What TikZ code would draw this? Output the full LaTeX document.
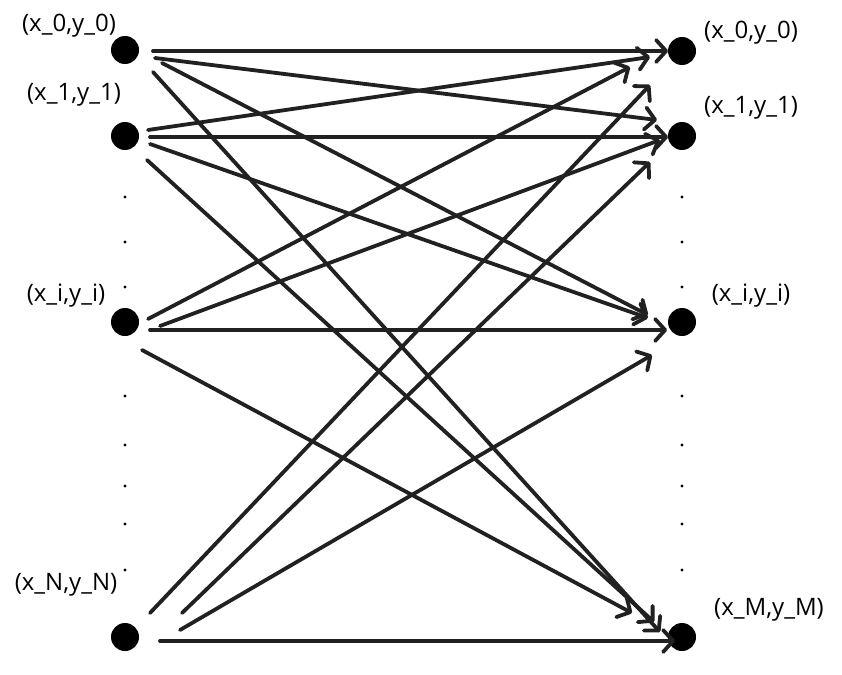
\documentclass[tikz,border=0pt]{standalone}
\usepackage{fontspec}
\setmainfont{Open Sans}
\usetikzlibrary{arrows.meta}
\begin{document}
\begin{tikzpicture}[x=1pt,y=-1pt,
  vtx/.style={circle,fill=black,minimum size=28pt,inner sep=0pt},
  dotmark/.style={circle,fill=black,minimum size=3.2pt,inner sep=0pt},
  lbl/.style={font=\fontsize{24}{27}\selectfont,inner sep=0pt},
  arr/.style={draw=black!87,line width=3.8pt,line cap=round,
    -{Straight Barb[length=10pt,width=22pt,line cap=round,line join=round]}}]
\useasboundingbox (0,0) rectangle (842,674);
% vertices
\node[vtx] (L0) at (125,50) {};
\node[vtx] (L1) at (125,136) {};
\node[vtx] (Li) at (125,322) {};
\node[vtx] (LN) at (125,637) {};
\node[vtx] (R0) at (682,51) {};
\node[vtx] (R1) at (682,136) {};
\node[vtx] (Ri) at (682,322) {};
\node[vtx] (RM) at (682,637) {};
% labels
\node[lbl] (tL0) at (69,26) {(x\_0,y\_0)};
\node[lbl] (tL1) at (74,95) {(x\_1,y\_1)};
\node[lbl] (tLi) at (66,296) {(x\_i,y\_i)};
\node[lbl] (tLN) at (66,585) {(x\_N,y\_N)};
\node[lbl] (tR0) at (751,33) {(x\_0,y\_0)};
\node[lbl] (tR1) at (751,108) {(x\_1,y\_1)};
\node[lbl] (tRi) at (751,296) {(x\_i,y\_i)};
\node[lbl] (tRM) at (769,610) {(x\_M,y\_M)};
% ellipsis dots
\foreach \yy [count=\k] in {197,242,287,396,445,486,524,570} {
  \node[dotmark] (dl\k) at (125,\yy) {};
  \node[dotmark] (dr\k) at (682,\yy) {};
}
% connectors from (x_0,y_0)
\draw[arr] ([shift={(28,1)}]L0.center) -- ([shift={(-14,0)}]R0.center);
\draw[arr] ([shift={(30,8)}]L0.center) -- ([shift={(-25,-16)}]R1.center);
\draw[arr] ([shift={(37,13)}]L0.center) -- ([shift={(-34,-7)}]Ri.center);
\draw[arr] ([shift={(28,22)}]L0.center) -- ([shift={(-22,-5)}]RM.center);
% from (x_1,y_1)
\draw[arr] ([shift={(23,-6)}]L1.center) -- ([shift={(-32,6)}]R0.center);
\draw[arr] ([shift={(25,1)}]L1.center) -- ([shift={(-14,1)}]R1.center);
\draw[arr] ([shift={(25,8)}]L1.center) -- ([shift={(-34,-4)}]Ri.center);
\draw[arr] ([shift={(22,24)}]L1.center) -- ([shift={(-28,-15)}]RM.center);
% from (x_i,y_i)
\draw[arr] ([shift={(23,-3)}]Li.center) -- ([shift={(-52,16)}]R0.center);
\draw[arr] ([shift={(35,4)}]Li.center) -- ([shift={(-22,4)}]R1.center);
\draw[arr] ([shift={(25,8)}]Li.center) -- ([shift={(-15,8)}]Ri.center);
\draw[arr] ([shift={(17,28)}]Li.center) -- ([shift={(-50,-24)}]RM.center);
% from (x_N,y_N)
\draw[arr] ([shift={(25,-24)}]LN.center) -- ([shift={(-32,34)}]R0.center);
\draw[arr] ([shift={(57,-24)}]LN.center) -- ([shift={(-32,26)}]R1.center);
\draw[arr] ([shift={(55,-7)}]LN.center) -- ([shift={(-30,33)}]Ri.center);
\draw[arr] ([shift={(35,4)}]LN.center) -- ([shift={(-7,4)}]RM.center);
\end{tikzpicture}
\end{document}
